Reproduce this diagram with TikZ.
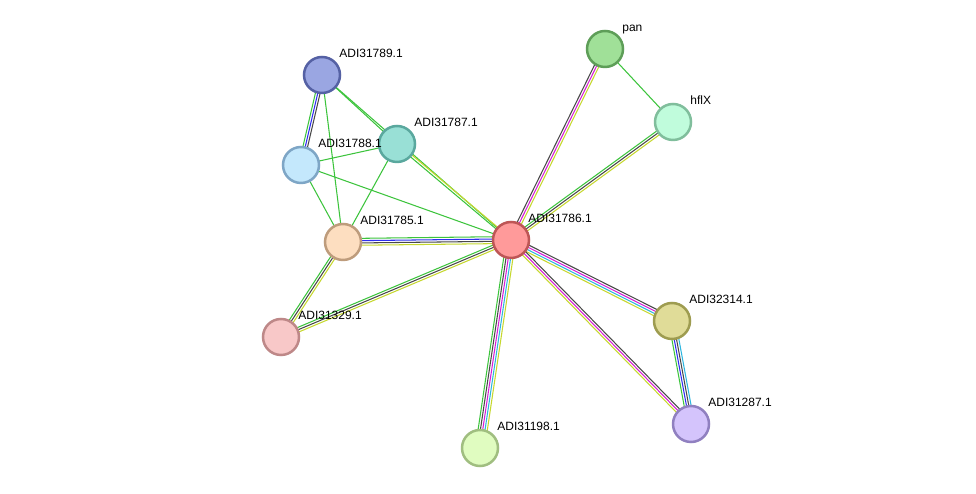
\documentclass[tikz,border=0pt]{standalone}
\usepackage{fontspec}
\setmainfont{Liberation Sans}
\usetikzlibrary{calc,backgrounds}
\definecolor{sgreen}{HTML}{3CC43C}
\definecolor{sblue}{HTML}{2E2EF0}
\definecolor{sdark}{HTML}{484848}
\definecolor{smagenta}{HTML}{D61ED6}
\definecolor{scyan}{HTML}{2EB6E0}
\definecolor{syellow}{HTML}{C6D82E}
\definecolor{fillA}{HTML}{9AA6E2}\definecolor{lineA}{HTML}{5561A4}
\definecolor{fillB}{HTML}{99E0D6}\definecolor{lineB}{HTML}{5AA89E}
\definecolor{fillC}{HTML}{C4E8FC}\definecolor{lineC}{HTML}{7EA6C6}
\definecolor{fillD}{HTML}{FDDEC0}\definecolor{lineD}{HTML}{BE9C7C}
\definecolor{fillE}{HTML}{FF9A9A}\definecolor{lineE}{HTML}{BE5656}
\definecolor{fillF}{HTML}{A0E098}\definecolor{lineF}{HTML}{5E9E58}
\definecolor{fillG}{HTML}{C0FCDC}\definecolor{lineG}{HTML}{80BE9C}
\definecolor{fillH}{HTML}{F8C8C8}\definecolor{lineH}{HTML}{BE8888}
\definecolor{fillI}{HTML}{E0FCC0}\definecolor{lineI}{HTML}{A0BE80}
\definecolor{fillJ}{HTML}{E0DC98}\definecolor{lineJ}{HTML}{9E9C50}
\definecolor{fillK}{HTML}{D4C4FC}\definecolor{lineK}{HTML}{9080C0}

% parallel coloured lines between two nodes, first colour on the left
\newcommand{\strlink}[3]{%
  \foreach \c [count=\i] in {#3} {\xdef\nlines{\i}}%
  \foreach \c [count=\i] in {#3} {
    \pgfmathsetmacro{\off}{((\nlines+1)/2-\i)*2.3}
    \draw[edge,\c] ($(#1.center)!\off pt!90:(#2.center)$) -- ($(#2.center)!\off pt!-90:(#1.center)$);
  }}

\begin{document}
\begin{tikzpicture}[
    x=1pt,y=1pt,
    prot/.style={circle,draw,line width=2.5pt,minimum size=36pt,inner sep=0pt},
    lbl/.style={anchor=base west,label distance=5pt,inner sep=0pt,font=\fontsize{12}{14}\selectfont},
    edge/.style={line width=1.05pt}
]
    \useasboundingbox (0,0) rectangle (976,494);

    \node[prot,fill=fillA,draw=lineA,label={[lbl]45:ADI31789.1}] (n89) at (322,419) {};
    \node[prot,fill=fillB,draw=lineB,label={[lbl]45:ADI31787.1}] (n87) at (397,350) {};
    \node[prot,fill=fillC,draw=lineC,label={[lbl]45:ADI31788.1}] (n88) at (301,329) {};
    \node[prot,fill=fillD,draw=lineD,label={[lbl]45:ADI31785.1}] (n85) at (343,252) {};
    \node[prot,fill=fillE,draw=lineE,label={[lbl]45:ADI31786.1}] (n86) at (511,254) {};
    \node[prot,fill=fillF,draw=lineF,label={[lbl]45:pan}] (pan) at (605,445) {};
    \node[prot,fill=fillG,draw=lineG,label={[lbl]45:hflX}] (hflx) at (673,372) {};
    \node[prot,fill=fillH,draw=lineH,label={[lbl]45:ADI31329.1}] (n329) at (281,157) {};
    \node[prot,fill=fillI,draw=lineI,label={[lbl]45:ADI31198.1}] (n198) at (480,46) {};
    \node[prot,fill=fillJ,draw=lineJ,label={[lbl]45:ADI32314.1}] (n314) at (672,173) {};
    \node[prot,fill=fillK,draw=lineK,label={[lbl]45:ADI31287.1}] (n287) at (691,70) {};

    \begin{pgfonlayer}{background}
    \fill[white] (0,0) rectangle (976,494);
    \strlink{n89}{n87}{sgreen}
    \strlink{n89}{n86}{sgreen}
    \strlink{n89}{n85}{sgreen}
    \strlink{n88}{n87}{sgreen}
    \strlink{n88}{n85}{sgreen}
    \strlink{n88}{n86}{sgreen}
    \strlink{n87}{n85}{sgreen}
    \strlink{pan}{hflx}{sgreen}
    \strlink{n88}{n89}{sgreen,sblue,sdark}
    \strlink{n87}{n86}{syellow,sgreen}
    \strlink{n85}{n86}{sgreen,sblue,sdark,syellow}
    \strlink{n329}{n85}{sgreen,sdark,syellow}
    \strlink{n329}{n86}{sgreen,sdark,syellow}
    \strlink{n86}{pan}{sdark,smagenta,syellow}
    \strlink{n86}{hflx}{sgreen,sdark,syellow}
    \strlink{n198}{n86}{sgreen,sdark,smagenta,scyan,syellow}
    \strlink{n86}{n314}{sdark,smagenta,scyan,syellow}
    \strlink{n86}{n287}{sdark,smagenta,syellow}
    \strlink{n287}{n314}{sgreen,sblue,sdark,scyan}
    \end{pgfonlayer}
\end{tikzpicture}
\end{document}
